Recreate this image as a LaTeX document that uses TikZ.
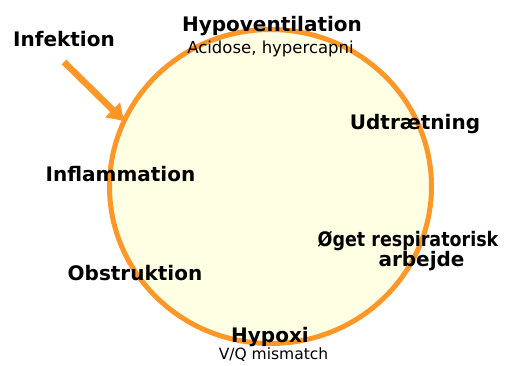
\documentclass[tikz,border=0pt]{standalone}
\usepackage{graphicx}
\usepackage{fontspec}
\setmainfont{DejaVu Sans}
\usetikzlibrary{arrows.meta}
\definecolor{ring}{RGB}{255,150,40}
\definecolor{pale}{RGB}{255,255,228}
\tikzset{
  big/.style={font=\fontsize{20}{21}\selectfont\bfseries, anchor=base, inner sep=0pt},
  small/.style={font=\fontsize{15.5}{17}\selectfont, anchor=base, inner sep=0pt},
}
\begin{document}
\begin{tikzpicture}[x=1pt,y=-1pt]
\useasboundingbox (0,0) rectangle (531,365);
\draw[ring, line width=5pt, fill=pale] (270.5,186.5) ellipse [x radius=161, y radius=157];
\node[big] (hypovent) at (272,31) {Hypoventilation};
\node[small, font=\fontsize{16.5}{18}\selectfont] (acid) at (270.5,53) {Acidose, hypercapni};
\node[big] (infek) at (64,46) {Infektion};
\node[big] (udtr) at (415,129.5) {Udtrætning};
\node[big] (infl) at (120.5,181.7) {Inflammation};
\node[big] (oget) at (408,246.7) {\scalebox{0.875}[1]{Øget respiratorisk}};
\node[big] (arb) at (421.5,266.7) {arbejde};
\node[big] (obst) at (135,280) {Obstruktion};
\node[big] (hypoxi) at (270,342.7) {Hypoxi};
\node[small] (vq) at (273.5,359.5) {V/Q mismatch};
\coordinate (astart) at (64,62);
\coordinate (aend) at (124,121);
\draw[ring, line width=6.5pt, -{Triangle[length=16pt,width=20pt]}] (astart) -- (aend);
\end{tikzpicture}
\end{document}
